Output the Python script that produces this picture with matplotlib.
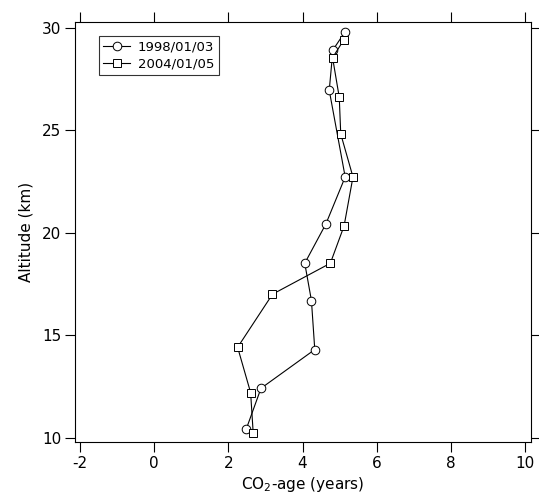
import matplotlib
matplotlib.use('Agg')
from matplotlib import pyplot as plt

plt.rcParams['font.family'] = ['DejaVu Sans']

# CO2-age profiles (years) vs altitude (km)
alt_1998 = [29.82, 28.93, 26.96, 22.73, 20.44, 18.52, 16.70, 14.31, 12.42, 10.42]
age_1998 = [5.15, 4.82, 4.72, 5.15, 4.63, 4.06, 4.24, 4.33, 2.88, 2.48]
alt_2004 = [29.41, 28.55, 26.62, 24.83, 22.73, 20.34, 18.52, 17.01, 14.42, 12.21, 10.23]
age_2004 = [5.11, 4.81, 4.99, 5.03, 5.36, 5.12, 4.75, 3.19, 2.25, 2.60, 2.67]
labels = ['1998/01/03', '2004/01/05']
xticks = [-2, 0, 2, 4, 6, 8, 10]
yticks = [10, 15, 20, 25, 30]

fig = plt.figure(figsize=(5.39, 5.01), dpi=100)
ax = fig.add_axes([75 / 539, 1 - 442 / 501, (531 - 75) / 539, (442 - 22) / 501])

style = dict(color='black', lw=0.8, markersize=6.2, markerfacecolor='white',
             markeredgecolor='black', markeredgewidth=0.7)
ax.plot(age_1998, alt_1998, marker='o', label=labels[0], **style)
ax.plot(age_2004, alt_2004, marker='s', label=labels[1], **style)

ax.set_xlim(-2.135, 10.16)
ax.set_ylim(9.80, 30.29)
ax.set_xticks(xticks)
ax.set_xticklabels([str(t) for t in xticks])
ax.set_yticks(yticks)
ax.tick_params(direction='out', length=7, width=0.8, labelsize=11, pad=3,
               top=True, right=True, labeltop=False, labelright=False)
for s in ax.spines.values():
    s.set_linewidth(0.8)

ax.set_xlabel(r'CO$_{\mathregular{2}}$-age (years)', fontsize=11, labelpad=3)
ax.set_ylabel('Altitude (km)', fontsize=11, labelpad=6)

leg = ax.legend(loc='upper left', bbox_to_anchor=(0.052, 0.967), fontsize=9.5,
                frameon=True, fancybox=False, edgecolor='black', handlelength=2.0,
                borderpad=0.35, labelspacing=0.3, handletextpad=0.6,
                borderaxespad=0)
leg.get_frame().set_linewidth(0.8)

fig.savefig('out.png', dpi=100)
